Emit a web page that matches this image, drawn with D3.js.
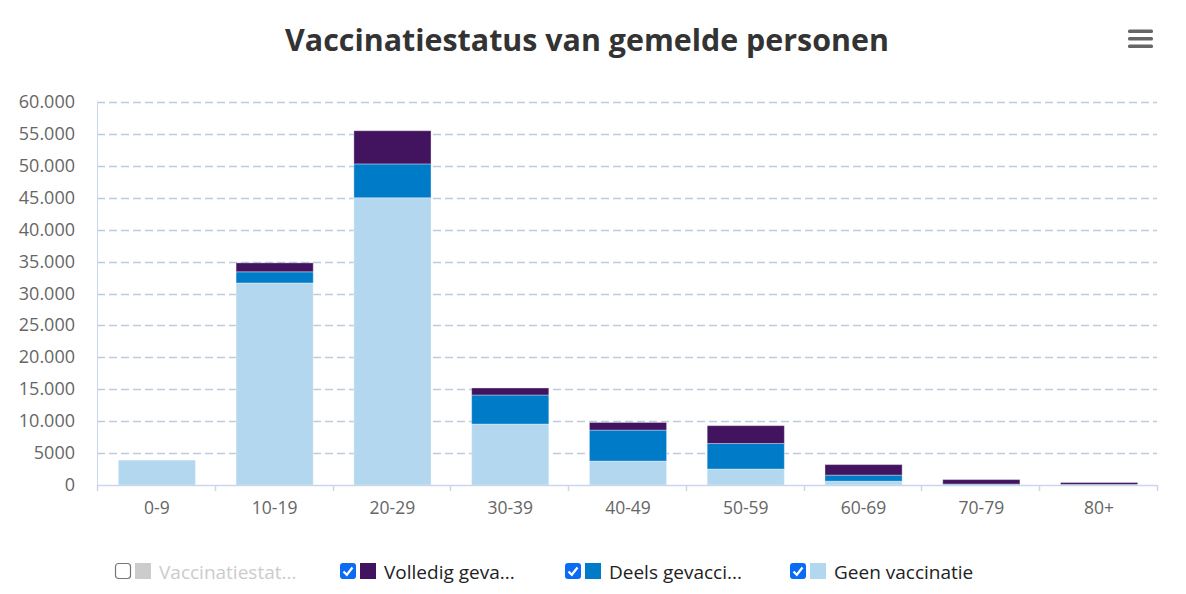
<!DOCTYPE html>
<html><head><meta charset="utf-8">
<script src="https://cdn.jsdelivr.net/npm/d3@7"></script>
<style>body{margin:0;background:#fff;font-family:"Open Sans",sans-serif}</style>
</head><body><svg id="c" width="1186" height="594"></svg>
<script>
const categories = ["0-9","10-19","20-29","30-39","40-49","50-59","60-69","70-79","80+"];
const geen = [3900,31650,45000,9550,3750,2500,600,50,30];
const deels = [0,1750,5300,4550,4850,4000,950,100,60];
const volledig = [0,1400,5200,1100,1200,2800,1650,700,300];
const yTicks = [0,5000,10000,15000,20000,25000,30000,35000,40000,45000,50000,55000,60000];
const legendLabels = ["Vaccinatiestat...","Volledig geva...","Deels gevacci...","Geen vaccinatie"];
const colors = {geen:"#b2d7ee",deels:"#007bc7",volledig:"#42145f",onbekend:"#cccccc"};

const svg = d3.select("#c");
const m = {l:97,r:1157,t:102,b:485};
const x = d3.scaleBand().domain(categories).range([m.l,m.r]).paddingInner(0.345).paddingOuter(0.1725);
const xb = d3.scaleBand().domain(categories).range([m.l,m.r]);
const y = d3.scaleLinear().domain([0,60000]).range([m.b,m.t]);

svg.append("text").attr("x",587).attr("y",51).attr("text-anchor","middle")
  .attr("font-size",30.4).attr("font-weight",700).attr("fill","#333")
  .text("Vaccinatiestatus van gemelde personen");

// menu icon
[31,38.5,46].forEach(yy=>svg.append("rect").attr("x",1128).attr("y",yy-1.5).attr("width",25).attr("height",3.5).attr("rx",1.5).attr("fill","#666"));

// grid
svg.append("g").selectAll("line").data(yTicks.filter(d=>d>0)).join("line")
  .attr("x1",m.l).attr("x2",m.r).attr("y1",d=>Math.round(y(d))+0.5).attr("y2",d=>Math.round(y(d))+0.5)
  .attr("stroke","#bccbdd").attr("stroke-width",1.3).attr("stroke-dasharray","8,4");

// y axis labels
const fmt = d=> d>=10000 ? d3.format(",")(d).replace(/,/g,".") : String(d);
svg.append("g").selectAll("text").data(yTicks).join("text")
  .attr("x",75).attr("y",d=>y(d)+6).attr("text-anchor","end")
  .attr("font-size",18).attr("fill","#666").text(fmt);
svg.append("line").attr("x1",m.l+0.5).attr("x2",m.l+0.5).attr("y1",m.t).attr("y2",m.b).attr("stroke","#ccd6eb");

// stacks
const data = categories.map((c,i)=>({cat:c,geen:geen[i],deels:deels[i],volledig:volledig[i]}));
const stack = d3.stack().keys(["geen","deels","volledig"])(data);
svg.append("g").selectAll("g").data(stack).join("g").attr("fill",d=>colors[d.key])
  .selectAll("rect").data(d=>d).join("rect")
  .attr("x",d=>x(d.data.cat)+1).attr("width",x.bandwidth())
  .attr("y",d=>y(d[1])).attr("height",d=>Math.max(0,y(d[0])-y(d[1])))
  .attr("stroke","rgba(255,255,255,0.35)").attr("stroke-width",1);

// x axis
svg.append("line").attr("x1",m.l).attr("x2",m.r).attr("y1",m.b+0.5).attr("y2",m.b+0.5).attr("stroke","#ccd6eb").attr("stroke-width",1.5);
svg.append("g").selectAll("line").data(categories.concat(["end"])).join("line")
  .attr("x1",(d,i)=>Math.round(m.l+i*xb.bandwidth())+0.5).attr("x2",(d,i)=>Math.round(m.l+i*xb.bandwidth())+0.5)
  .attr("y1",m.b).attr("y2",m.b+6).attr("stroke","#ccd6eb").attr("stroke-width",1.5);
svg.append("g").selectAll("text").data(categories).join("text")
  .attr("x",d=>xb(d)+xb.bandwidth()/2+1).attr("y",514).attr("text-anchor","middle")
  .attr("font-size",17.5).attr("fill","#666").text(d=>d);

// legend
const lx = [115,340,565,790];
const lcol = [colors.onbekend,colors.volledig,colors.deels,colors.geen];
const lg = svg.append("g").selectAll("g").data(legendLabels).join("g")
  .attr("transform",(d,i)=>`translate(${lx[i]},563)`);
lg.each(function(d,i){
  const g = d3.select(this);
  if(i===0){
    g.append("rect").attr("x",0.5).attr("y",0.5).attr("width",15).attr("height",15).attr("rx",3).attr("fill","#fff").attr("stroke","#767676").attr("stroke-width",1.2);
  } else {
    g.append("rect").attr("x",0).attr("y",0).attr("width",16).attr("height",16).attr("rx",3).attr("fill","#0a6cf5");
    g.append("path").attr("d","M3.5,8.5 L6.8,11.8 L12.5,4.5").attr("fill","none").attr("stroke","#fff").attr("stroke-width",2.2);
  }
  g.append("rect").attr("x",20).attr("y",0).attr("width",16).attr("height",16).attr("fill",lcol[i]);
  g.append("text").attr("x",44).attr("y",15.5).attr("font-size",19).attr("fill",i===0?"#cccccc":"#222").text(d);
});
</script></body></html>
